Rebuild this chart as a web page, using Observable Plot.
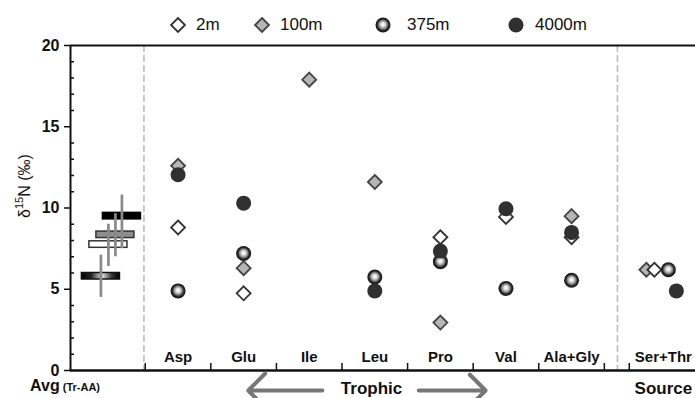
<!DOCTYPE html>
<html><head><meta charset="utf-8">
<script src="https://cdn.jsdelivr.net/npm/d3@7"></script>
<script src="https://cdn.jsdelivr.net/npm/@observablehq/plot@0.6"></script>
<style>
body{margin:0;background:#fff;font-family:"Liberation Sans",Arial,sans-serif;}
#wrap{position:relative;width:695px;height:398px;overflow:hidden;}
.lg{position:absolute;top:14px;font-size:17px;color:#111;line-height:22px;}
</style></head><body><div id="wrap"></div>
<script>
// ---- data ----
const series = ["2m", "100m", "375m", "4000m"];
const categories = ["Asp", "Glu", "Ile", "Leu", "Pro", "Val", "Ala+Gly", "Ser+Thr"];
const v2m    = [8.8, 4.75, null, null, 8.2, 9.45, 8.2, 6.2];
const v100m  = [12.6, 6.3, 17.9, 11.6, 2.95, null, 9.5, 6.2];
const v375m  = [4.9, 7.2, null, 5.75, 6.7, 5.05, 5.55, 6.2];
const v4000m = [12.05, 10.3, null, 4.9, 7.35, 9.95, 8.5, 4.9];
// Avg (Tr-AA): mean and error range per series (order of `series`)
const avgMean = [7.75, 8.35, 5.8, 9.5];
const avgLow  = [6.4, 7.0, 4.5, 7.5];
const avgHigh = [9.0, 9.65, 7.1, 10.8];
const yTicks = [0, 5, 10, 15, 20];

// ---- layout helpers ----
const unit = 65.58; // px per category
const catX = categories.map((c, i) => i < 7 ? i : 7.4);
const avgX = -1.016;
const avgDx = {"375m": -10.5, "2m": -3, "100m": 4, "4000m": 10.5};
const srcDx = {"100m": -17, "2m": -9, "375m": 5, "4000m": 13};
const valuesBy = {"2m": v2m, "100m": v100m, "375m": v375m, "4000m": v4000m};
const style = {
  "2m":    {symbol: "diamond2", r: 6.3, fill: "white", stroke: "#333", strokeWidth: 1.8},
  "100m":  {symbol: "diamond2", r: 6.3, fill: "#b6b6b6", stroke: "#444", strokeWidth: 1.8},
  "375m":  {symbol: "circle", r: 7.5, fill: "url(#g375)", stroke: "none"},
  "4000m": {symbol: "circle", r: 7.5, fill: "#303030", stroke: "none"}
};
const barStyle = {
  "2m": {fill: "white", stroke: "#333"},
  "100m": {fill: "#8e8e8e", stroke: "#333"},
  "375m": {fill: "url(#b375)", stroke: "#111"},
  "4000m": {fill: "#000", stroke: "#000"}
};

const rows = [];
series.forEach(s => valuesBy[s].forEach((v, i) => {
  if (v != null) rows.push({series: s, cat: categories[i], x: catX[i] + (categories[i] === "Ser+Thr" ? srcDx[s] / unit : 0), v});
}));
const avgRows = series.map((s, i) => ({series: s, mean: avgMean[i], lo: avgLow[i], hi: avgHigh[i]}));

const drawOrder = ["100m", "2m", "375m", "4000m"];
const barOrder = ["375m", "2m", "100m", "4000m"];

const marks = [
  Plot.ruleX([-0.52, 6.70], {stroke: "#bdbdbd", strokeWidth: 1.6, strokeDasharray: "7,3"}),
  Plot.ruleY([20], {stroke: "#111", strokeWidth: 2}),
  Plot.ruleX([-1.64], {stroke: "#111", strokeWidth: 2}),
  Plot.tickY(d3.range(1, 20).filter(d => d % 5), {stroke: "#111", strokeWidth: 1.5, insetRight: 695 - 70 - 4}),
  Plot.axisY({ticks: yTicks, tickSize: 6, tickPadding: 5, fontSize: 16, fontWeight: "bold", label: null, strokeWidth: 1.5, color: "#111"}),
  Plot.tickX([-0.5, 0.5, 1.5, 2.5, 3.5, 4.5, 5.5, 6.5, 6.88], {stroke: "#111", strokeWidth: 1.5, insetTop: 325 - 7}),
  Plot.text(categories, {x: (d, i) => catX[i], y: 0, dy: -13, text: d => d, fontSize: 15, fontWeight: "bold", fill: "#111"}),
];
barOrder.forEach(s => {
  const d = avgRows.filter(r => r.series === s);
  marks.push(Plot.rect(d, {x1: avgX - 0.29, x2: avgX + 0.29, y1: r => r.mean - 0.2, y2: r => r.mean + 0.2, dx: avgDx[s], fill: barStyle[s].fill, stroke: barStyle[s].stroke, strokeWidth: 1.5}));
});
barOrder.forEach(s => {
  const d = avgRows.filter(r => r.series === s);
  marks.push(Plot.ruleX(d, {x: avgX, y1: "lo", y2: "hi", dx: avgDx[s], stroke: "#8a8a8a", strokeWidth: 2.7}));
});
drawOrder.forEach(s => {
  const st = style[s];
  marks.push(Plot.dot(rows.filter(r => r.series === s), {x: "x", y: "v", symbol: st.symbol, r: st.r, fill: st.fill, stroke: st.stroke, strokeWidth: st.strokeWidth || 1}));
});
marks.push(Plot.ruleY([0], {stroke: "#111", strokeWidth: 2.5}));
marks.push(Plot.text(["Trophic"], {x: 2.95, y: 0, dy: 18, text: d => d, fontSize: 17, fontWeight: "bold", fill: "#111"}));
marks.push(Plot.text(["Source"], {x: 7.4, y: 0, dy: 18, text: d => d, fontSize: 17, fontWeight: "bold", fill: "#111"}));
marks.push(Plot.arrow([{a: 2.2, b: 1.07}, {a: 3.67, b: 4.69}], {x1: "a", x2: "b", y1: 0, y2: 0, dy: 20, stroke: "#777", strokeWidth: 4, headLength: 9, headAngle: 90}));

const svg = Plot.plot({
  width: 695, height: 398,
  marginLeft: 70, marginRight: 0, marginTop: 45, marginBottom: 28,
  x: {domain: [-1.64, 7.89], axis: null},
  y: {domain: [0, 20], axis: null},
  style: {fontFamily: "'Liberation Sans', Arial, sans-serif", background: "white", overflow: "visible"},
  marks
});

const defs = d3.select(svg).insert("defs", ":first-child");
defs.html(`
<radialGradient id="g375" cx="50%" cy="50%" r="50%" fx="50%" fy="45%">
  <stop offset="0%" stop-color="#ffffff"/>
  <stop offset="25%" stop-color="#e6e6e6"/>
  <stop offset="55%" stop-color="#8a8a8a"/>
  <stop offset="75%" stop-color="#2a2a2a"/>
  <stop offset="100%" stop-color="#151515"/>
</radialGradient>
<linearGradient id="b375" x1="0" x2="1" y1="0" y2="0">
  <stop offset="0%" stop-color="#000"/>
  <stop offset="25%" stop-color="#222"/>
  <stop offset="55%" stop-color="#e0e0e0"/>
  <stop offset="80%" stop-color="#333"/>
  <stop offset="100%" stop-color="#000"/>
</linearGradient>`);

// y label
const yl = d3.select(svg).append("text")
  .attr("transform", "translate(30,186) rotate(-90)")
  .attr("text-anchor", "middle").attr("font-size", 16).attr("fill", "#111");
yl.append("tspan").text("δ");
yl.append("tspan").attr("font-size", 11).attr("dy", -7).text("15");
yl.append("tspan").attr("dy", 7).text("N (‰)");

// Avg label
const al = d3.select(svg).append("text").attr("x", 65).attr("y", 391).attr("font-weight", "bold").attr("fill", "#111");
al.append("tspan").attr("font-size", 16).text("Avg");
al.append("tspan").attr("font-size", 11).text(" (Tr-AA)");

const wrap = document.getElementById("wrap");
wrap.appendChild(svg);

// legend
const legendPos = {"2m": [178, 196], "100m": [262, 280], "375m": [383, 407], "4000m": [516, 535]};
series.forEach(s => {
  const [cx, tx] = legendPos[s];
  const st = style[s];
  const icon = document.createElementNS("http://www.w3.org/2000/svg", "svg");
  icon.setAttribute("width", 20); icon.setAttribute("height", 20);
  icon.style.position = "absolute"; icon.style.left = (cx - 10) + "px"; icon.style.top = "15px";
  if (st.symbol === "circle") {
    icon.innerHTML = `<circle cx="10" cy="10" r="${st.r}" fill="${st.fill}"/>`;
  } else {
    const h = st.r * 1.11;
    icon.innerHTML = `<path d="M10,${10-h}L${10+h},10L10,${10+h}L${10-h},10Z" fill="${st.fill}" stroke="${st.stroke}" stroke-width="${st.strokeWidth}"/>`;
  }
  wrap.appendChild(icon);
  const t = document.createElement("div");
  t.className = "lg"; t.style.left = tx + "px"; t.textContent = s;
  wrap.appendChild(t);
});
</script>
</body></html>
